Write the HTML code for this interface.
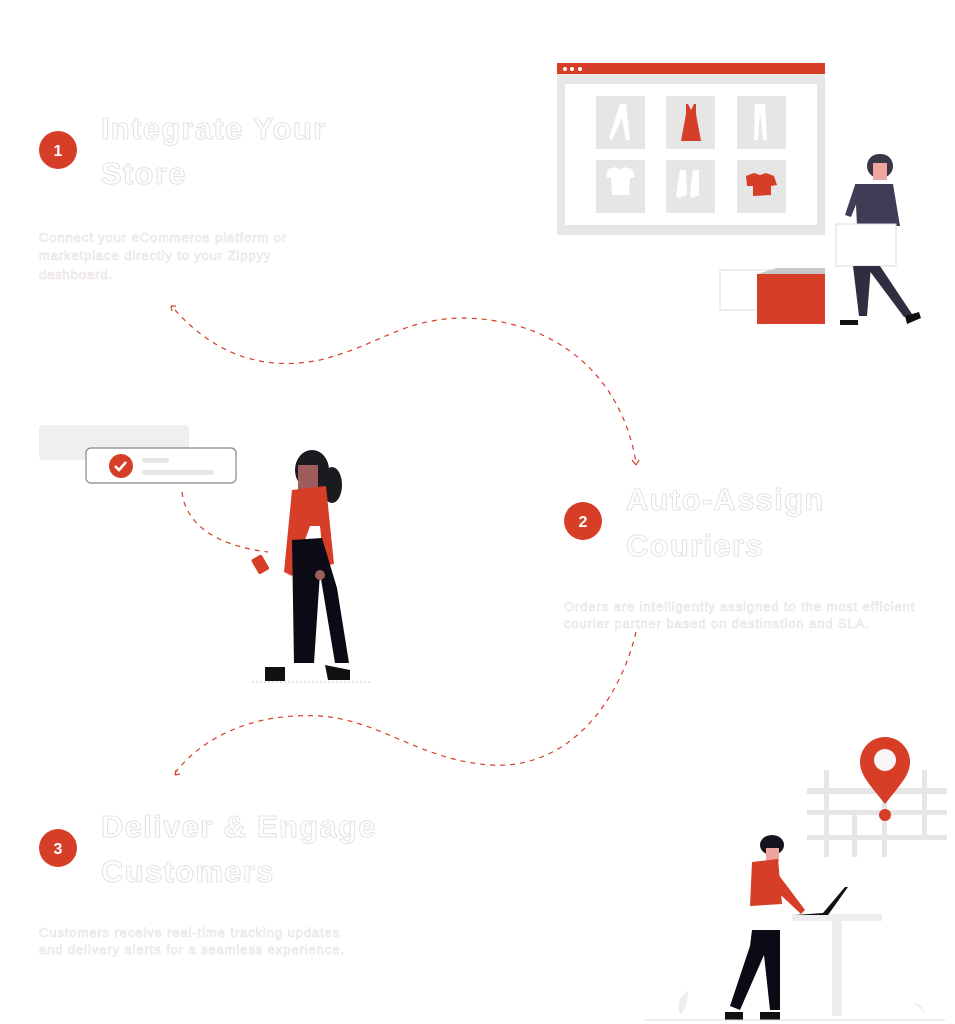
<!DOCTYPE html>
<html><head><meta charset="utf-8"><style>
html,body{margin:0;padding:0;background:#fff;}
svg{display:block}
.h{font-family:"Liberation Sans",sans-serif;font-weight:bold;font-size:31px;fill:#fff;stroke:#e6e1e1;stroke-width:1;letter-spacing:1.3px}
.b{font-family:"Liberation Sans",sans-serif;font-size:13px;fill:#fff;stroke:#ece6e6;stroke-width:0.8;letter-spacing:0.9px}
.n{font-family:"Liberation Sans",sans-serif;font-size:16px;fill:#fff;font-weight:bold}
</style></head><body>
<svg width="955" height="1024" viewBox="0 0 955 1024" xmlns="http://www.w3.org/2000/svg">
<g fill="none" stroke="#d63e28" stroke-width="1.2" stroke-dasharray="5,5">
<path d="M175,310 C220,360 270,370 320,360 C380,345 400,320 460,318 C550,318 620,370 636,462"/>
<path d="M636,632 C620,700 570,770 490,765 C420,760 380,720 320,716 C250,712 200,740 175,773"/>
<path d="M182,492 C185,520 210,545 268,552"/>
</g>
<g fill="none" stroke="#d63e28" stroke-width="1.2">
<path d="M171,306 l5,0 M171,306 l1,5"/>
<path d="M636,465 l-4,-5 M636,465 l3,-5"/>
<path d="M175,775 l1,-5 M175,775 l5,-1"/>
</g>
<circle cx="58" cy="150" r="19" fill="#d63e28"/><text class="n" x="58" y="156" text-anchor="middle">1</text>
<circle cx="583" cy="521" r="19" fill="#d63e28"/><text class="n" x="583" y="527" text-anchor="middle">2</text>
<circle cx="58" cy="848" r="19" fill="#d63e28"/><text class="n" x="58" y="854" text-anchor="middle">3</text>
<text class="h" x="101" y="139">Integrate Your</text>
<text class="h" x="101" y="184">Store</text>
<text class="b" x="39" y="242">Connect your eCommerce platform or</text>
<text class="b" x="39" y="260">marketplace directly to your Zippyy</text>
<text class="b" x="39" y="279">dashboard.</text>
<text class="h" x="626" y="510">Auto-Assign</text>
<text class="h" x="626" y="556">Couriers</text>
<text class="b" x="564" y="611">Orders are intelligently assigned to the most efficient</text>
<text class="b" x="564" y="628">courier partner based on destination and SLA.</text>
<text class="h" x="101" y="837">Deliver &amp; Engage</text>
<text class="h" x="101" y="882">Customers</text>
<text class="b" x="39" y="937">Customers receive real-time tracking updates</text>
<text class="b" x="39" y="954">and delivery alerts for a seamless experience.</text>
<rect x="557" y="63" width="268" height="172" fill="#e6e6e6"/>
<rect x="557" y="63" width="268" height="11" fill="#d63e28"/>
<circle cx="565" cy="69" r="2" fill="#fff"/><circle cx="572" cy="69" r="2" fill="#fff"/><circle cx="580" cy="69" r="2" fill="#fff"/>
<rect x="565" y="84" width="252" height="141" fill="#fff"/>
<g fill="#e6e6e6">
<rect x="596" y="96" width="49" height="53"/><rect x="666" y="96" width="49" height="53"/><rect x="737" y="96" width="49" height="53"/>
<rect x="596" y="160" width="49" height="53"/><rect x="666" y="160" width="49" height="53"/><rect x="737" y="160" width="49" height="53"/>
</g>
<path d="M620,104 l6,0 l4,36 l-4,0 l-4,-22 l-10,22 l-3,-2z" fill="#fff"/>
<path d="M686,104 l2,0 l3,6 l3,-6 l2,0 l0,10 l5,27 l-20,0 l5,-27z" fill="#d63e28"/>
<path d="M755,104 l10,0 l2,36 l-4,0 l-3,-28 l-2,28 l-4,0z" fill="#fff"/>
<path d="M608,169 l8,-2 l4,3 l4,-3 l8,2 l3,8 l-5,1 l-1,17 l-17,0 l-1,-17 l-5,-1z" fill="#fff"/>
<path d="M680,170 l6,0 l1,25 l-8,3 l-3,-2z M693,170 l6,0 l0,25 l-7,3 l-2,-3z" fill="#fff"/>
<path d="M746,176 l8,-3 l6,2 l6,-2 l8,3 l3,9 l-6,1 l0,9 l-18,1 l0,-10 l-6,0z" fill="#d63e28"/>
<rect x="720" y="270" width="50" height="40" fill="#fff" stroke="#ddd"/>
<rect x="757" y="274" width="68" height="50" fill="#d63e28"/>
<path d="M757,274 l20,-6 l48,0 l0,6z" fill="#c8c8c8"/>
<rect x="867" y="154" width="26" height="24" rx="12" fill="#3a3547"/>
<rect x="873" y="163" width="14" height="17" fill="#f0a4a0"/>
<path d="M855,184 l38,0 l7,42 l-43,0 z" fill="#3f3d56"/>
<path d="M855,185 l-10,30 l6,2 l10,-25z" fill="#3f3d56"/>
<rect x="836" y="224" width="60" height="42" fill="#fff" stroke="#ddd"/>
<path d="M853,266 l18,0 l-4,50 l-8,0z M866,266 l14,0 l32,48 l-8,3z" fill="#2f2e41"/>
<path d="M840,320 l18,0 l0,5 l-18,0z M905,316 l14,-4 l2,6 l-14,6z" fill="#111"/>
<rect x="39" y="425" width="150" height="35" rx="4" fill="#efefef"/>
<rect x="86" y="448" width="150" height="35" rx="5" fill="#fff" stroke="#888" stroke-width="1.2"/>
<circle cx="121" cy="466" r="12" fill="#d63e28"/>
<path d="M115,466 l4,4 l7,-8" fill="none" stroke="#fff" stroke-width="2.5"/>
<rect x="142" y="458" width="27" height="5" rx="2.5" fill="#e6e6e6"/>
<rect x="142" y="470" width="72" height="5" rx="2.5" fill="#e6e6e6"/>
<ellipse cx="312" cy="470" rx="17" ry="20" fill="#1a1a1f"/>
<ellipse cx="332" cy="485" rx="10" ry="18" fill="#1a1a1f"/>
<rect x="298" y="465" width="20" height="26" fill="#9e5c5c"/>
<path d="M292,490 l34,-4 l8,78 l-10,2 l-4,-40 l-10,0 l-18,50 l-8,-4z" fill="#d63e28"/>
<path d="M292,540 l30,-2 l15,50 l12,75 l-14,0 l-15,-90 l-6,90 l-20,0 z" fill="#0c0a14"/>
<path d="M265,667 l20,0 l0,14 l-20,0z M325,665 l25,5 l0,10 l-22,0z" fill="#111"/>
<rect x="254" y="556" width="12" height="17" rx="2" transform="rotate(-30 260 564)" fill="#d63e28"/>
<circle cx="320" cy="575" r="5" fill="#9e5c5c"/>
<line x1="252" y1="682" x2="370" y2="682" stroke="#ccc" stroke-dasharray="2,2"/>
<rect x="807" y="770" width="140" height="87" fill="#fff"/>
<g fill="#e6e6e6">
<rect x="807" y="788" width="140" height="6"/><rect x="807" y="810" width="140" height="5"/><rect x="807" y="835" width="140" height="5"/>
<rect x="824" y="770" width="5" height="87"/><rect x="852" y="815" width="5" height="42"/><rect x="882" y="770" width="5" height="87"/><rect x="922" y="770" width="5" height="70"/>
</g>
<path d="M885,804 C870,785 860,775 860,762 A25,25 0 0 1 910,762 C910,775 900,785 885,804z" fill="#d63e28"/>
<circle cx="885" cy="760" r="11" fill="#f7f5f5"/>
<circle cx="885" cy="815" r="6" fill="#d63e28"/>
<rect x="792" y="914" width="90" height="7" fill="#eee"/>
<rect x="832" y="921" width="10" height="95" fill="#eee"/>
<path d="M795,915 l33,0 l20,-28 l-3,0 l-22,26z" fill="#111"/>
<ellipse cx="772" cy="845" rx="12" ry="10" fill="#15131c"/>
<rect x="766" y="848" width="13" height="14" fill="#f0a4a0"/>
<path d="M752,862 l26,-3 l4,45 l-32,2z" fill="#d63e28"/>
<path d="M775,870 l30,40 l-4,4 l-32,-30z" fill="#d63e28"/>
<path d="M752,930 l28,0 l0,80 l-10,0 l-6,-55 l-24,55 l-10,-4 l20,-60z" fill="#0c0a14"/>
<path d="M725,1012 l18,0 l0,8 l-18,0z M760,1012 l20,0 l0,8 l-20,0z" fill="#111"/>
<line x1="645" y1="1020" x2="945" y2="1020" stroke="#ddd"/>
<path d="M680,1015 c-4,-10 0,-20 8,-24 c0,10 -2,18 -8,24z" fill="#eee"/>
<path d="M925,1015 c-4,-6 -8,-10 -12,-12 c6,0 10,4 12,12z" fill="#eee"/>
</svg>
</body></html>
